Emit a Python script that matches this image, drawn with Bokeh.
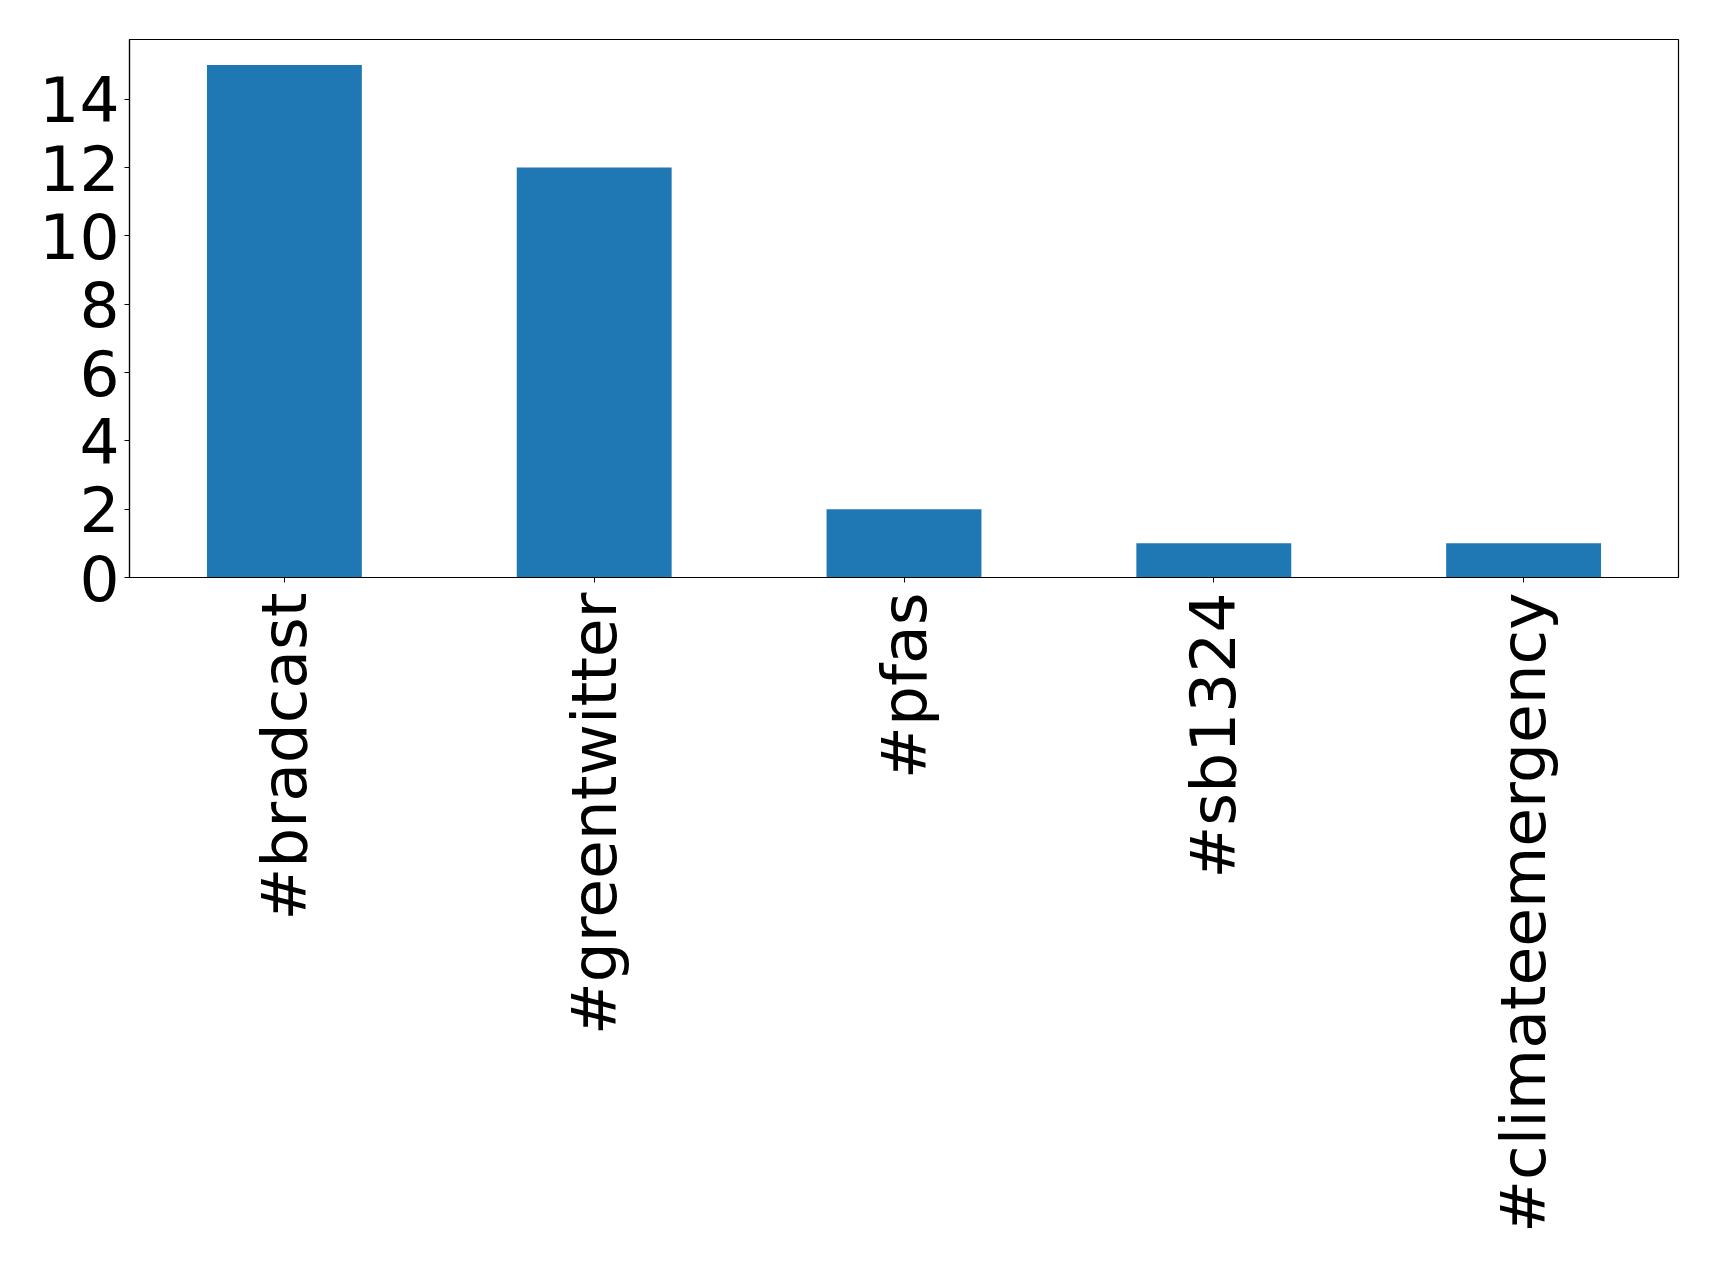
import math
from bokeh.plotting import figure
from bokeh.models import FactorRange, Range1d, FixedTicker, ColumnDataSource
from bokeh.embed import file_html
from bokeh.resources import INLINE

hashtags = ["#bradcast", "#greentwitter", "#pfas", "#sb1324", "#climateemergency"]
counts = [15, 12, 2, 1, 1]
y_ticks = [0, 2, 4, 6, 8, 10, 12, 14]

src = ColumnDataSource(data=dict(tag=hashtags, count=counts))

p = figure(
    x_range=FactorRange(*hashtags, range_padding=0),
    y_range=Range1d(0, 15.75),
    frame_width=1549, frame_height=538,
    min_border_left=129, min_border_top=39, min_border_right=25, min_border_bottom=670,
    output_backend="svg", toolbar_location=None,
)
p.vbar(x="tag", top="count", width=0.5, source=src, fill_color="#1f77b4", line_color=None)

p.xgrid.visible = False
p.ygrid.visible = False
p.outline_line_color = "black"
p.outline_line_width = 1.2
p.background_fill_color = "white"
p.border_fill_color = "white"

p.yaxis.ticker = FixedTicker(ticks=y_ticks)
for ax in (p.xaxis[0], p.yaxis[0]):
    ax.axis_line_color = "black"
    ax.axis_line_width = 1.2
    ax.major_tick_line_color = "black"
    ax.major_tick_out = 5
    ax.major_tick_in = 0
    ax.minor_tick_line_color = None
    ax.major_label_text_font = "DejaVu Sans"
    ax.major_label_text_font_size = "63px"
    ax.major_label_text_color = "black"

p.yaxis.major_label_standoff = 5
p.xaxis.major_label_standoff = 10
p.xaxis.major_label_orientation = math.pi / 2
p.xaxis.group_text_font_size = "0px"

open("out.html", "w").write(file_html(p, INLINE))
